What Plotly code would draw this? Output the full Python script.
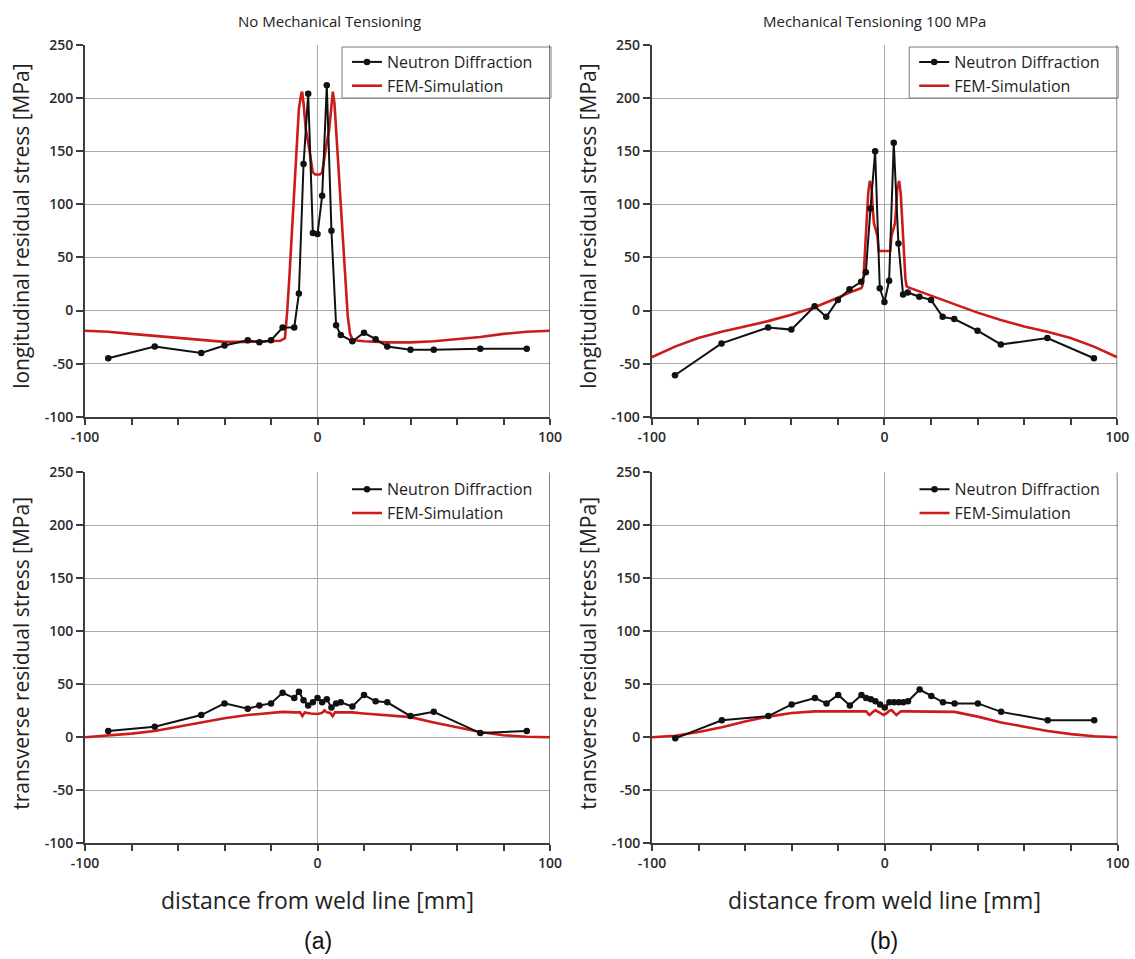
import plotly.graph_objects as go

# ---- measured positions (mm from weld line) for neutron diffraction ----
x_nd = [-90, -70, -50, -40, -30, -25, -20, -15, -10, -8, -6, -4, -2, 0,
        2, 4, 6, 8, 10, 15, 20, 25, 30, 40, 50, 70, 90]

# longitudinal stress, no mechanical tensioning
nd_long_a = [-45, -34, -40, -33, -28, -30, -28, -16, -16, 16, 138, 204, 73, 72,
             108, 212, 75, -14, -23, -29, -21, -27, -34, -37, -37, -36, -36]
# longitudinal stress, mechanical tensioning 100 MPa
nd_long_b = [-61, -31, -16, -18, 4, -6, 10, 20, 27, 36, 96, 150, 21, 8,
             28, 158, 63, 15, 17, 13, 10, -6, -8, -19, -32, -26, -45]
# transverse stress, no mechanical tensioning
nd_trans_a = [6, 10, 21, 32, 27, 30, 32, 42, 37, 43, 35, 30, 33, 37,
              33, 36, 28, 32, 33, 29, 40, 34, 33, 20, 24, 4, 6]
# transverse stress, mechanical tensioning 100 MPa
nd_trans_b = [-1, 16, 20, 31, 37, 32, 40, 30, 40, 37, 36, 34, 31, 28,
              33, 33, 33, 33, 34, 45, 39, 33, 32, 32, 24, 16, 16]

# ---- FEM simulation profiles ----
fem_long_a_x = [-100, -90, -80, -70, -60, -50, -40, -30, -20, -16, -14, -13, -12, -11,
                -10, -9, -8, -7, -6.6, -6, -5, -4, -3, -2, -1, 0, 1, 2, 3, 4, 5, 6,
                6.6, 7.3, 8, 9, 10, 11, 12, 13, 14, 15, 16, 20, 30, 40, 50, 60, 70,
                80, 90, 100]
fem_long_a_y = [-19, -20, -22, -24, -26, -28, -29.5, -29.5, -29, -28.5, -26, 0, 35, 72,
                110, 150, 190, 204, 206, 195, 170, 158, 145, 130, 128, 128, 128, 130,
                145, 158, 170, 195, 206, 195, 170, 140, 105, 68, 30, -5, -22, -27, -28,
                -29, -30, -30, -29, -27, -25, -22, -20, -19]

fem_long_b_x = [-100, -90, -80, -70, -60, -50, -40, -30, -20, -15, -10, -9.5, -9, -8,
                -7, -6.3, -5.5, -5, -4.5, -4, -3, -2.5, -1.5, 0, 1.5, 2.5, 3, 4, 4.5,
                5, 5.5, 6.3, 7, 8, 9, 9.5, 10, 15, 20, 30, 40, 50, 60, 70, 80, 90, 100]
fem_long_b_y = [-44, -34, -26, -20, -15, -10, -4, 3, 12, 17, 21, 23, 30, 70,
                110, 122, 115, 95, 82, 78, 70, 56, 56, 56, 56, 56, 70, 78, 82,
                95, 115, 122, 110, 70, 30, 23, 22, 18, 14, 6, -2, -9, -15, -20, -26, -34, -44]

fem_trans_a_x = [-100, -90, -80, -70, -60, -50, -40, -30, -20, -15, -10, -7.5, -6.5, -5.5,
                 -3, 0, 2, 3, 4, 5.5, 6.5, 7.5, 10, 15, 20, 30, 40, 50, 60, 70, 80, 90, 100]
fem_trans_a_y = [0, 1.5, 3.5, 6, 10, 14.5, 18, 21, 23, 24, 23.5, 23.5, 20, 23.5,
                 22.5, 22, 23, 25.5, 23.5, 23, 20, 23.5, 23.5, 23.5, 22.5, 21, 19, 14,
                 9.5, 5, 2, 0.5, 0]

fem_trans_b_x = [-100, -90, -80, -70, -60, -50, -40, -30, -20, -10, -8, -7, -6.5, -5,
                 -4, -2, -0.5, 1, 2, 3, 4, 5, 6, 7, 10, 20, 30, 40, 50, 60, 70, 80, 90, 100]
fem_trans_b_y = [0, 1.5, 5, 9.5, 15, 19.5, 23, 24.5, 24.5, 24.5, 24.5, 22, 21, 24,
                 25.5, 23, 21, 23, 25, 25.5, 23, 21, 23, 24.5, 24.5, 24.5, 24, 19.5,
                 14, 10, 6, 3, 1, 0]

# ---- labels ----
titles = ["No Mechanical Tensioning", "Mechanical Tensioning 100 MPa"]
y_titles = ["longitudinal residual stress [MPa]", "transverse residual stress [MPa]"]
x_title = "distance from weld line [mm]"
panel_tags = ["(a)", "(b)"]
y_ticks = [-100, -50, 0, 50, 100, 150, 200, 250]
x_ticks = [-100, 0, 100]

W, H = 1135, 959
FONT = "Open Sans"
TXT = "#2b2b2b"
GRID = "#a9a9a9"
AX = "#3c3c3c"
RED = "#cc1b1b"


def px_x(p):
    return p / W


def px_y(p):
    return 1 - p / H


# plot-area rectangles in pixels: (left, right, top, bottom)
areas = [
    (85, 550, 45, 416.7),
    (651.7, 1117.2, 45, 416.7),
    (85, 550, 472.3, 843.3),
    (652, 1117.5, 472.3, 843.3),
]

fig = go.Figure()

panels = [
    (nd_long_a, fem_long_a_x, fem_long_a_y),
    (nd_long_b, fem_long_b_x, fem_long_b_y),
    (nd_trans_a, fem_trans_a_x, fem_trans_a_y),
    (nd_trans_b, fem_trans_b_x, fem_trans_b_y),
]

layout = {}
shapes = []
for i, (nd, fx, fy) in enumerate(panels):
    k = "" if i == 0 else str(i + 1)
    lg = "legend" + k
    fig.add_trace(go.Scatter(
        x=fx, y=fy, mode="lines", name="FEM-Simulation",
        line=dict(color=RED, width=2.6), xaxis="x" + k, yaxis="y" + k,
        legend=lg, legendrank=2))
    fig.add_trace(go.Scatter(
        x=x_nd, y=nd, mode="lines+markers", name="Neutron Diffraction",
        line=dict(color="#111111", width=2), marker=dict(color="#111111", size=6.5),
        xaxis="x" + k, yaxis="y" + k, legend=lg, legendrank=1))

    l, r, t, b = areas[i]
    tick_font = dict(family=FONT, size=14, color=TXT, weight=600)
    layout["xaxis" + k] = dict(
        domain=[px_x(l), px_x(r)], anchor="y" + k, range=[-100, 100],
        tickvals=x_ticks, ticktext=[str(v) for v in x_ticks],
        ticks="outside", ticklen=6, tickwidth=2, tickcolor=AX,
        minor=dict(dtick=20, tick0=0, ticks="outside", ticklen=6, tickwidth=2,
                   tickcolor=AX, showgrid=False),
        showgrid=True, gridcolor=GRID, gridwidth=1, zeroline=False,
        showline=True, linecolor=AX, linewidth=2, tickfont=tick_font,
    )
    layout["yaxis" + k] = dict(
        domain=[px_y(b), px_y(t)], anchor="x" + k, range=[-100, 250],
        tickvals=y_ticks, ticktext=[str(v) for v in y_ticks],
        ticks="outside", ticklen=7, tickwidth=2, tickcolor=AX,
        showgrid=True, gridcolor=GRID, gridwidth=1, zeroline=False,
        showline=True, linecolor=AX, linewidth=2, tickfont=tick_font,
    )
    boxed = i < 2
    # legend sits in the top-right corner of each panel
    layout[lg] = dict(
        x=px_x(r - 203), xanchor="left", y=px_y(t), yanchor="top",
        bgcolor="rgba(0,0,0,0)", borderwidth=0,
        font=dict(family=FONT, size=16, color="#1e1e1e"),
        tracegroupgap=0, traceorder="normal",
    )
    if boxed:
        shapes.append(dict(type="rect", xref="paper", yref="paper",
                           x0=px_x(r - 208), x1=px_x(r + 1), y0=px_y(t + 53), y1=px_y(t + 2),
                           fillcolor="white", line=dict(color="#7a7a7a", width=1),
                           layer="above"))
    # right frame edge
    shapes.append(dict(type="line", xref="x" + k, yref="y" + k,
                       x0=100, x1=100, y0=-100, y1=250,
                       line=dict(color="#5a5a5a", width=1.5)))

fig.update_layout(**layout)

annotations = []
title_cx = [329, 874]
for j in range(2):
    l, r, _, _ = areas[j]
    cx = (l + r) / 2
    annotations.append(dict(text=titles[j], x=px_x(title_cx[j]), y=px_y(21),
                            xref="paper", yref="paper", xanchor="center", yanchor="middle",
                            showarrow=False, font=dict(family=FONT, size=15, color="#222")))
    annotations.append(dict(text=x_title, x=px_x(cx), y=px_y(900), xref="paper", yref="paper",
                            xanchor="center", yanchor="middle",
                            showarrow=False, font=dict(family=FONT, size=23, color="#222")))
    annotations.append(dict(text=panel_tags[j], x=px_x(cx), y=px_y(941), xref="paper",
                            yref="paper", xanchor="center", yanchor="middle", showarrow=False,
                            font=dict(family="Liberation Sans", size=23, color="#111")))
    yx = 21 if j == 0 else 588
    for row in range(2):
        _, _, t, b = areas[row * 2 + j]
        annotations.append(dict(text=y_titles[row], x=px_x(yx), y=px_y((t + b) / 2 - 4),
                                xref="paper", yref="paper", xanchor="center", yanchor="middle",
                                textangle=-90, showarrow=False,
                                font=dict(family=FONT, size=21, color="#222")))

fig.update_layout(
    width=W, height=H, autosize=False,
    margin=dict(l=0, r=0, t=0, b=0, pad=0, autoexpand=False),
    paper_bgcolor="white", plot_bgcolor="white",
    shapes=shapes, annotations=annotations,
)

fig.write_html("out.html")
